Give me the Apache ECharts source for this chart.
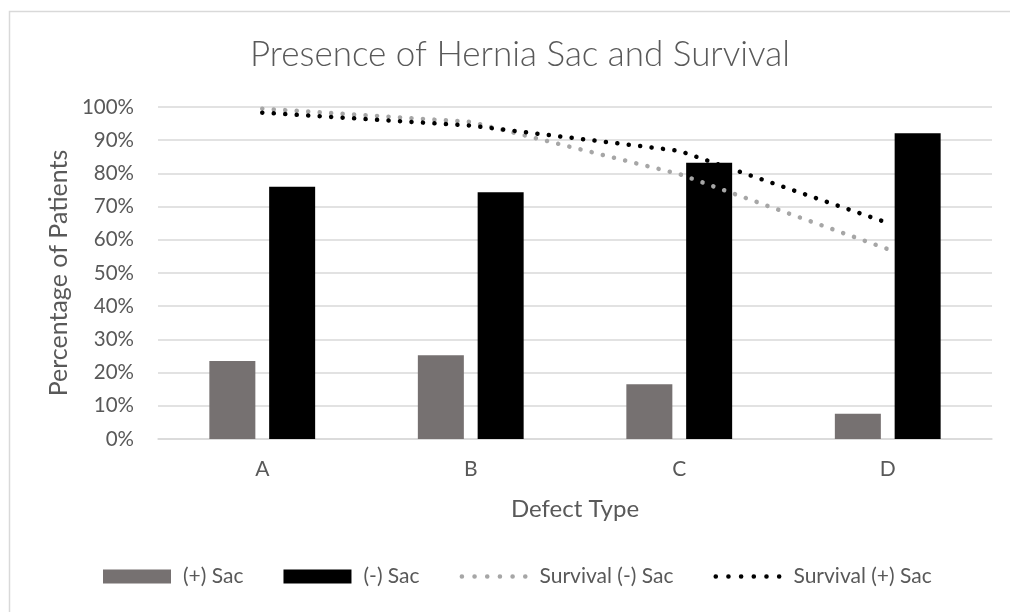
<!DOCTYPE html>
<html>
<head>
<meta charset="utf-8">
<script src="https://cdn.jsdelivr.net/npm/echarts@6/dist/echarts.min.js"></script>
<style>
  html, body { margin: 0; padding: 0; background: #fff; }
  #chart { width: 1010px; height: 612px; }
</style>
</head>
<body>
<div id="chart"></div>
<script>
// data (percent)
var categories = ['A', 'B', 'C', 'D'];
var plusSac = [23.5, 25.2, 16.5, 7.6];
var minusSac = [76.0, 74.3, 83.2, 92.1];
var survivalMinusSac = [99.5, 95.5, 79.8, 57.2];
var survivalPlusSac = [98.3, 94.4, 86.8, 65.1];
var yTicks = [0, 100, 10]; // min, max, interval

var font = 'Lato, "Open Sans", sans-serif';
var textGray = '#595959';
// six round dots, used as legend icon for the dotted lines
var dotsIcon = 'path://M2,7a2,2 0 1,0 4,0a2,2 0 1,0 -4,0z'
    + 'M13,7a2,2 0 1,0 4,0a2,2 0 1,0 -4,0z'
    + 'M24,7a2,2 0 1,0 4,0a2,2 0 1,0 -4,0z'
    + 'M35,7a2,2 0 1,0 4,0a2,2 0 1,0 -4,0z'
    + 'M46,7a2,2 0 1,0 4,0a2,2 0 1,0 -4,0z'
    + 'M57,7a2,2 0 1,0 4,0a2,2 0 1,0 -4,0z';

var chart = echarts.init(document.getElementById('chart'));
chart.setOption({
    backgroundColor: '#fff',
    animation: false,
    textStyle: { fontFamily: font },
    title: {
        text: 'Presence of Hernia Sac and Survival',
        left: 515,
        textAlign: 'center',
        top: 32,
        textStyle: { fontSize: 35, fontWeight: 300, color: textGray, fontFamily: font }
    },
    graphic: [{
        type: 'rect',
        left: 7, top: 9,
        shape: { width: 1020, height: 620 },
        style: { fill: 'none', stroke: '#d9d9d9', lineWidth: 1.5 },
        silent: true
    }],
    legend: {
        bottom: 20,
        left: 98,
        itemWidth: 68,
        itemHeight: 14,
        itemGap: 40,
        textStyle: { fontSize: 21, color: textGray, padding: [0, 0, 0, 7] },
        data: [
            { name: '(+) Sac', icon: 'rect' },
            { name: '(-) Sac', icon: 'rect' },
            { name: 'Survival (-) Sac', icon: dotsIcon },
            { name: 'Survival (+) Sac', icon: dotsIcon }
        ]
    },
    grid: { left: 158, right: 18, top: 107, bottom: 173 },
    xAxis: {
        type: 'category',
        data: categories,
        name: 'Defect Type',
        nameLocation: 'middle',
        nameGap: 58,
        nameTextStyle: { fontSize: 24, color: textGray },
        axisLine: { lineStyle: { color: '#d9d9d9', width: 1.5 } },
        axisTick: { show: false },
        axisLabel: { fontSize: 21, color: textGray, margin: 20 }
    },
    yAxis: {
        type: 'value',
        min: yTicks[0],
        max: yTicks[1],
        interval: yTicks[2],
        name: 'Percentage of Patients',
        nameLocation: 'middle',
        nameRotate: 90,
        nameGap: 82,
        nameTextStyle: { fontSize: 25, color: textGray },
        axisLine: { show: false },
        axisTick: { show: false },
        axisLabel: { formatter: '{value}%', fontSize: 20.5, color: textGray, margin: 24 },
        splitLine: { lineStyle: { color: '#d9d9d9', width: 1.5 } }
    },
    series: [
        {
            name: '(+) Sac',
            type: 'bar',
            data: plusSac,
            barWidth: 46,
            barGap: '30%',
            itemStyle: { color: '#767171' }
        },
        {
            name: '(-) Sac',
            type: 'bar',
            data: minusSac,
            barWidth: 46,
            itemStyle: { color: '#000000' }
        },
        {
            name: 'Survival (-) Sac',
            type: 'line',
            data: survivalMinusSac,
            symbol: 'none',
            itemStyle: { color: '#a6a6a6' },
            lineStyle: { color: '#a6a6a6', width: 4.5, type: [0.1, 11.4], cap: 'round' }
        },
        {
            name: 'Survival (+) Sac',
            type: 'line',
            data: survivalPlusSac,
            symbol: 'none',
            itemStyle: { color: '#000000' },
            lineStyle: { color: '#000000', width: 4.5, type: [0.1, 11.4], cap: 'round' }
        }
    ]
});
</script>
</body>
</html>
